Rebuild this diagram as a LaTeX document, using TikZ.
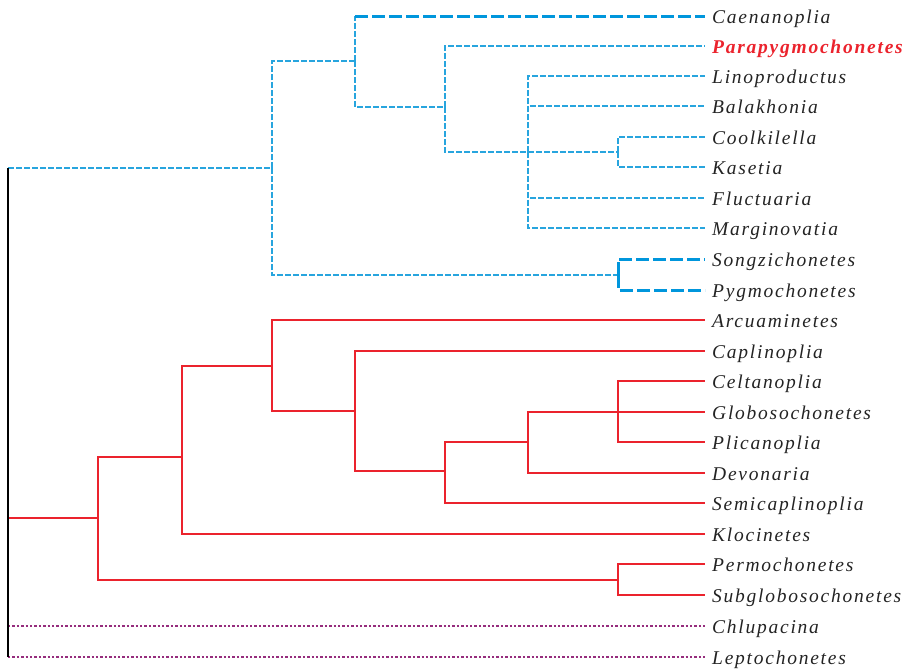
\documentclass[tikz,border=0pt]{standalone}
\usepackage{fontspec}
\setmainfont{Liberation Serif}
\newfontfamily\taxafont[LetterSpace=9]{Liberation Serif}
\definecolor{cladeblue}{RGB}{0,150,220}
\definecolor{thinblue}{RGB}{40,165,222}
\definecolor{cladered}{RGB}{235,35,45}
\definecolor{cladepurple}{RGB}{150,45,125}
\definecolor{labelgray}{RGB}{35,35,35}
\usetikzlibrary{positioning}

\begin{document}
\begin{tikzpicture}[x=1pt, y=-1pt,
      leaf/.style={anchor=west, inner xsep=7pt, inner ysep=0pt, text height=14pt, text depth=0pt,
                   text=labelgray, font=\taxafont\fontsize{19.5}{21}\selectfont\itshape},
      hilite/.style={leaf, text=cladered, font=\taxafont\fontsize{19.5}{21}\selectfont\bfseries\itshape},
      rootline/.style={line width=1.2pt, black},
      bluethin/.style={line width=1.1pt, thinblue, dash pattern=on 6pt off 2pt},
      bluethick/.style={line width=3pt, cladeblue, dash pattern=on 13pt off 4pt},
      redline/.style={line width=1.1pt, cladered},
      purpledot/.style={line width=2.8pt, cladepurple, dash pattern=on 2.4pt off 2pt}
    ]
      \useasboundingbox (0,0) rectangle (905,670);

      \node[leaf] (caen) at (705,16) {Caenanoplia};
      \node[hilite] (para) at (705,46) {Parapygmochonetes};
      \node[leaf] (lino) at (705,76) {Linoproductus};
      \node[leaf] (bala) at (705,106) {Balakhonia};
      \node[leaf] (cool) at (705,137) {Coolkilella};
      \node[leaf] (kase) at (705,167) {Kasetia};
      \node[leaf] (fluc) at (705,198) {Fluctuaria};
      \node[leaf] (marg) at (705,228) {Marginovatia};
      \node[leaf] (song) at (705,259) {Songzichonetes};
      \node[leaf] (pygm) at (705,290) {Pygmochonetes};
      \node[leaf] (arcu) at (705,320) {Arcuaminetes};
      \node[leaf] (capl) at (705,351) {Caplinoplia};
      \node[leaf] (celt) at (705,381) {Celtanoplia};
      \node[leaf] (glob) at (705,412) {Globosochonetes};
      \node[leaf] (plic) at (705,442) {Plicanoplia};
      \node[leaf] (devo) at (705,473) {Devonaria};
      \node[leaf] (semi) at (705,503) {Semicaplinoplia};
      \node[leaf] (kloc) at (705,534) {Klocinetes};
      \node[leaf] (perm) at (705,564) {Permochonetes};
      \node[leaf] (subg) at (705,595) {Subglobosochonetes};
      \node[leaf] (chlu) at (705,626) {Chlupacina};
      \node[leaf] (lept) at (705,657) {Leptochonetes};

      \coordinate (rtop) at (8,168);
      \coordinate (rbot) at (8,657);
      \coordinate (b1) at (272,168);
      \coordinate (b2) at (355,61);
      \coordinate (b3) at (445,107);
      \coordinate (b4) at (528,152);
      \coordinate (b5) at (618,152);
      \coordinate (b6) at (618,275);
      \coordinate (r1) at (98,518);
      \coordinate (r2) at (182,457);
      \coordinate (r3) at (272,366);
      \coordinate (r4) at (355,411);
      \coordinate (r5) at (445,471);
      \coordinate (r6) at (528,442);
      \coordinate (r7) at (618,412);
      \coordinate (r8) at (618,580);

      \draw[bluethin] (rtop) -- (b1);
      \draw[bluethin] (b1) |- (b2);
      \draw[bluethin] (b1) |- (b6);
      \draw[bluethin] (b2) -- (b2 |- caen.west);
      \draw[bluethick] (b2 |- caen.west) -- (caen.west);
      \draw[bluethin] (b2) |- (b3);
      \draw[bluethin] (b3) |- (para.west);
      \draw[bluethin] (b3) |- (b4);
      \draw[bluethin] (b4) |- (lino.west);
      \draw[bluethin] (b4) |- (bala.west);
      \draw[bluethin] (b4) -- (b5);
      \draw[bluethin] (b4) |- (fluc.west);
      \draw[bluethin] (b4) |- (marg.west);
      \draw[bluethin] (b5) |- (cool.west);
      \draw[bluethin] (b5) |- (kase.west);
      \draw[bluethick] (b6) |- (song.west);
      \draw[bluethick] (b6) |- (pygm.west);

      \draw[redline] (rtop |- r1) -- (r1);
      \draw[redline] (r1) |- (r2);
      \draw[redline] (r1) |- (r8);
      \draw[redline] (r2) |- (r3);
      \draw[redline] (r2) |- (kloc.west);
      \draw[redline] (r3) |- (arcu.west);
      \draw[redline] (r3) |- (r4);
      \draw[redline] (r4) |- (capl.west);
      \draw[redline] (r4) |- (r5);
      \draw[redline] (r5) |- (r6);
      \draw[redline] (r5) |- (semi.west);
      \draw[redline] (r6) |- (glob.west);
      \draw[redline] (r6) |- (devo.west);
      \draw[redline] (r7) |- (celt.west);
      \draw[redline] (r7) |- (plic.west);
      \draw[redline] (r8) |- (perm.west);
      \draw[redline] (r8) |- (subg.west);

      \draw[purpledot] (rtop |- chlu.west) -- (chlu.west);
      \draw[purpledot] (rtop |- lept.west) -- (lept.west);
      \draw[rootline] (rtop) -- (rbot);
    \end{tikzpicture}
\end{document}
